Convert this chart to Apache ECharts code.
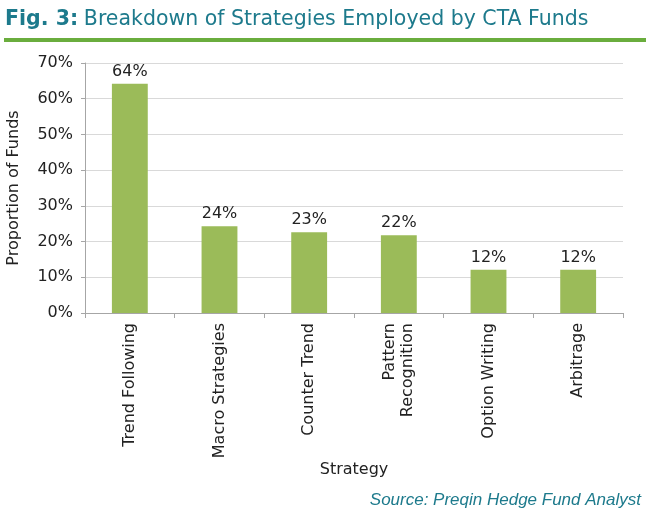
<!DOCTYPE html>
<html>
<head>
<meta charset="utf-8">
<script src="https://cdn.jsdelivr.net/npm/echarts@6/dist/echarts.min.js"></script>
<style>
  html, body { margin: 0; padding: 0; background: #fff; }
  #main { width: 650px; height: 512px; }
</style>
</head>
<body>
<div id="main"></div>
<script>
// data
var strategies = ['Trend Following', 'Macro Strategies', 'Counter Trend', 'Pattern\nRecognition', 'Option Writing', 'Arbitrage'];
var shares = [64.2, 24.3, 22.6, 21.8, 12.1, 12.1];
var shareLabels = ['64%', '24%', '23%', '22%', '12%', '12%'];
var yTicks = [0, 10, 20, 30, 40, 50, 60, 70];

var font = 'DejaVu Sans';
var teal = '#1d7a8c';

var chart = echarts.init(document.getElementById('main'));

var option = {
    animation: false,
    textStyle: { fontFamily: font },
    title: [{
        text: '{b|Fig. 3:} {n|Breakdown of Strategies Employed by CTA Funds}',
        left: 5,
        top: 9,
        padding: 0,
        textStyle: {
            fontWeight: 'normal',
            rich: {
                b: { fontFamily: font, fontWeight: 'bold', fontSize: 20.5, color: teal },
                n: { fontFamily: font, fontWeight: 'normal', fontSize: 20.5, color: teal }
            }
        }
    }, {
        text: 'Source: Preqin Hedge Fund Analyst',
        right: 4,
        top: 487,
        textStyle: { fontFamily: 'Liberation Sans', fontStyle: 'italic', fontWeight: 'normal', fontSize: 17, color: teal }
    }],
    graphic: [{
        type: 'rect',
        shape: { x: 4, y: 38, width: 642, height: 4 },
        style: { fill: '#6aad3d' }
    }],
    grid: { left: 85, right: 27, top: 63, bottom: 199, outerBoundsMode: 'none' },
    xAxis: {
        type: 'category',
        data: strategies,
        name: 'Strategy',
        nameLocation: 'middle',
        nameGap: 148,
        nameTextStyle: { fontSize: 16, color: '#222' },
        axisLine: { lineStyle: { color: '#a6a6a6' } },
        axisTick: { show: true, length: 5, lineStyle: { color: '#a6a6a6' } },
        axisLabel: {
            rotate: 90,
            interval: 0,
            margin: 10,
            fontSize: 16,
            lineHeight: 18,
            color: '#222'
        }
    },
    yAxis: {
        type: 'value',
        min: 0,
        max: 70,
        interval: 10,
        name: 'Proportion of Funds',
        nameLocation: 'middle',
        nameGap: 63,
        nameTextStyle: { fontSize: 16, color: '#222' },
        axisLine: { show: true, lineStyle: { color: '#a6a6a6' } },
        axisTick: { show: true, length: 4, lineStyle: { color: '#a6a6a6' } },
        splitLine: { lineStyle: { color: '#d9d9d9' } },
        axisLabel: {
            fontSize: 16,
            color: '#222',
            margin: 12,
            formatter: function (v) { return yTicks.indexOf(v) >= 0 ? v + '%' : ''; }
        }
    },
    series: [{
        type: 'bar',
        data: shares,
        barWidth: '40%',
        itemStyle: { color: '#9bbb59' },
        label: {
            show: true,
            position: 'top',
            distance: 4,
            fontSize: 16,
            color: '#222',
            formatter: function (p) { return shareLabels[p.dataIndex]; }
        }
    }]
};

chart.setOption(option);
</script>
</body>
</html>
